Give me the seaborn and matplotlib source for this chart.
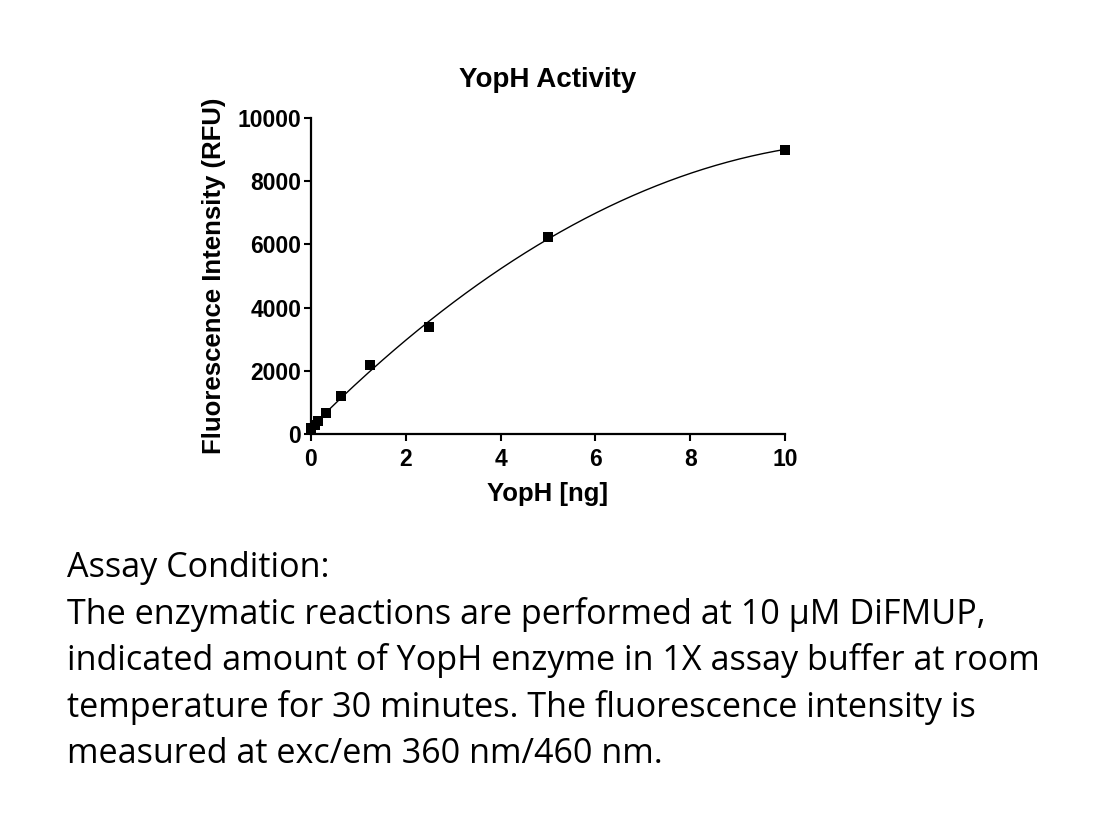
import numpy as np
import pandas as pd
import matplotlib
matplotlib.use("Agg")
import matplotlib.pyplot as plt
import seaborn as sns

# Data
yoph_ng = [0, 0.078, 0.156, 0.3125, 0.625, 1.25, 2.5, 5, 10]
rfu = [180, 290, 420, 650, 1200, 2180, 3370, 6230, 9000]

x_ticks = [0, 2, 4, 6, 8, 10]
y_ticks = [0, 2000, 4000, 6000, 8000, 10000]

caption = [
    "Assay Condition:",
    "The enzymatic reactions are performed at 10 \u00b5M DiFMUP,",
    "indicated amount of YopH enzyme in 1X assay buffer at room",
    "temperature for 30 minutes. The fluorescence intensity is",
    "measured at exc/em 360 nm/460 nm.",
]

df = pd.DataFrame({"YopH": yoph_ng, "RFU": rfu})

# smooth fitted curve (2nd order polynomial through the measured points)
coef = np.polyfit(df["YopH"], df["RFU"], 2)
fit_x = np.linspace(0, 10, 200)
fit_df = pd.DataFrame({"YopH": fit_x, "RFU": np.polyval(coef, fit_x)})

sns.set_style("ticks")
plt.rcParams["font.family"] = ["Liberation Sans", "DejaVu Sans"]
plt.rcParams["text.color"] = "black"
plt.rcParams["axes.labelcolor"] = "black"
plt.rcParams["xtick.color"] = "black"
plt.rcParams["ytick.color"] = "black"
plt.rcParams["axes.edgecolor"] = "black"

fig = plt.figure(figsize=(11.02, 8.32), dpi=100)
ax = fig.add_axes([0.2822, 0.4784, 0.4301, 0.3798])

sns.lineplot(data=fit_df, x="YopH", y="RFU", ax=ax, color="black", linewidth=1.0)
sns.scatterplot(data=df, x="YopH", y="RFU", ax=ax, marker="s", s=60,
                color="black", edgecolor="black", linewidth=0, clip_on=False, zorder=5)

ax.set_xlim(0, 10)
ax.set_ylim(0, 10000)
ax.set_xticks(x_ticks)
ax.set_yticks(y_ticks)
ax.set_xticklabels([str(t) for t in x_ticks], fontsize=16.5, fontweight="bold")
ax.set_yticklabels([str(t) for t in y_ticks], fontsize=16.5, fontweight="bold")
ax.tick_params(width=1.5, length=5, direction="out", pad=2)
ax.tick_params(axis="x", pad=5)
for side in ["left", "bottom"]:
    ax.spines[side].set_linewidth(1.6)
sns.despine(ax=ax)

ax.set_title("YopH Activity", fontsize=20, fontweight="bold", pad=22)
ax.set_xlabel("YopH [ng]", fontsize=18.5, fontweight="bold", labelpad=8)
ax.set_ylabel("Fluorescence Intensity (RFU)", fontsize=18.5, fontweight="bold", labelpad=8)

# caption below the chart
cap_font = ["Open Sans", "DejaVu Sans"]
y0 = 1 - 568 / 832
for i, line in enumerate(caption):
    fig.text(67 / 1102, y0 - i * 46.5 / 832, line, fontsize=24.6,
             family=cap_font, va="center", ha="left", color="black")

fig.savefig("out.png", dpi=100)
